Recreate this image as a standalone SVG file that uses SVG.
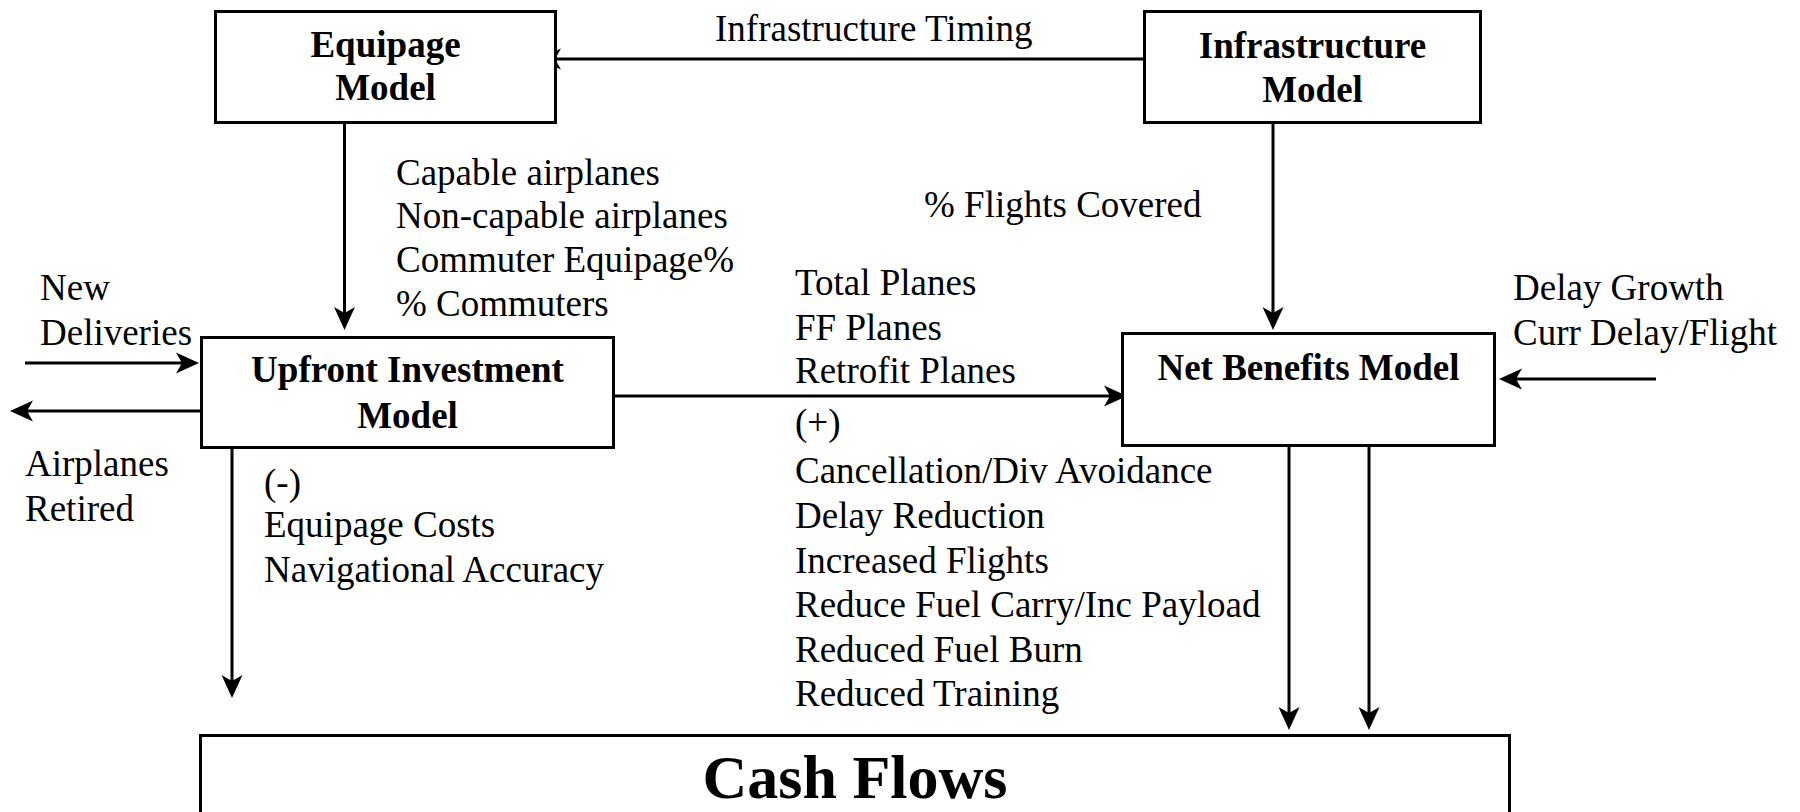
<svg xmlns="http://www.w3.org/2000/svg" width="1800" height="812" viewBox="0 0 1800 812">
<defs>
<style>
.box{fill:#fff;stroke:#000;stroke-width:3}
.ln{fill:none;stroke:#000;stroke-width:3;marker-end:url(#ah)}
text{font-family:"Liberation Serif","Times New Roman",serif;font-size:37px;fill:#000}
.b{font-weight:bold;text-anchor:middle}
.big{font-size:62px}
</style>
<marker id="ah" markerUnits="userSpaceOnUse" markerWidth="24" markerHeight="24" viewBox="0 0 24 24" refX="14" refY="12" orient="auto">
<path d="M0,1.5 L23,12 L0,22.5 L6,12 Z" fill="#000"/>
</marker>
</defs>
<rect width="1800" height="812" fill="#fff"/>
<g id="connectors">
<line class="ln" x1="1144" y1="59" x2="547" y2="59"/>
<line class="ln" x1="344.5" y1="123" x2="344.5" y2="321"/>
<line class="ln" x1="1273" y1="123" x2="1273" y2="321"/>
<line class="ln" x1="25" y1="363" x2="190" y2="363"/>
<line class="ln" x1="201" y1="411" x2="19" y2="411"/>
<line class="ln" x1="614" y1="396" x2="1118" y2="396"/>
<line class="ln" x1="1656" y1="379" x2="1508" y2="379"/>
<line class="ln" x1="232" y1="444" x2="232" y2="689"/>
<line class="ln" x1="1289" y1="443" x2="1289" y2="721"/>
<line class="ln" x1="1369" y1="443" x2="1369" y2="721"/>
</g>
<g id="equipage">
<rect class="box" x="215.5" y="11.5" width="340" height="111"/>
<text class="b" x="385.5" y="57">Equipage</text>
<text class="b" x="385.5" y="100">Model</text>
</g>
<g id="infrastructure">
<rect class="box" x="1144.5" y="11.5" width="336" height="111"/>
<text class="b" x="1312.5" y="58">Infrastructure</text>
<text class="b" x="1312.5" y="102">Model</text>
</g>
<g id="upfront">
<rect class="box" x="201.5" y="337.5" width="412" height="110"/>
<text class="b" x="407.5" y="382">Upfront Investment</text>
<text class="b" x="407.5" y="428">Model</text>
</g>
<g id="netbenefits">
<rect class="box" x="1122.5" y="333.5" width="372" height="112"/>
<text class="b" x="1308.5" y="380">Net Benefits Model</text>
</g>
<g id="cashflows">
<rect class="box" x="200.5" y="735.5" width="1309" height="90"/>
<text class="b big" x="855" y="798">Cash Flows</text>
</g>
<g id="labels">
<text x="715" y="41">Infrastructure Timing</text>
<text x="396" y="185">Capable airplanes</text>
<text x="396" y="228">Non-capable airplanes</text>
<text x="396" y="272">Commuter Equipage%</text>
<text x="396" y="316">% Commuters</text>
<text x="924" y="217">% Flights Covered</text>
<text x="40" y="300">New</text>
<text x="40" y="345">Deliveries</text>
<text x="795" y="295">Total Planes</text>
<text x="795" y="340">FF Planes</text>
<text x="795" y="383">Retrofit Planes</text>
<text x="1513" y="300">Delay Growth</text>
<text x="1513" y="345">Curr Delay/Flight</text>
<text x="25" y="476">Airplanes</text>
<text x="25" y="521">Retired</text>
<text x="264" y="495">(-)</text>
<text x="264" y="537">Equipage Costs</text>
<text x="264" y="582">Navigational Accuracy</text>
<text x="795" y="435">(+)</text>
<text x="795" y="483">Cancellation/Div Avoidance</text>
<text x="795" y="528">Delay Reduction</text>
<text x="795" y="573">Increased Flights</text>
<text x="795" y="617">Reduce Fuel Carry/Inc Payload</text>
<text x="795" y="662">Reduced Fuel Burn</text>
<text x="795" y="706">Reduced Training</text>
</g>
</svg>
